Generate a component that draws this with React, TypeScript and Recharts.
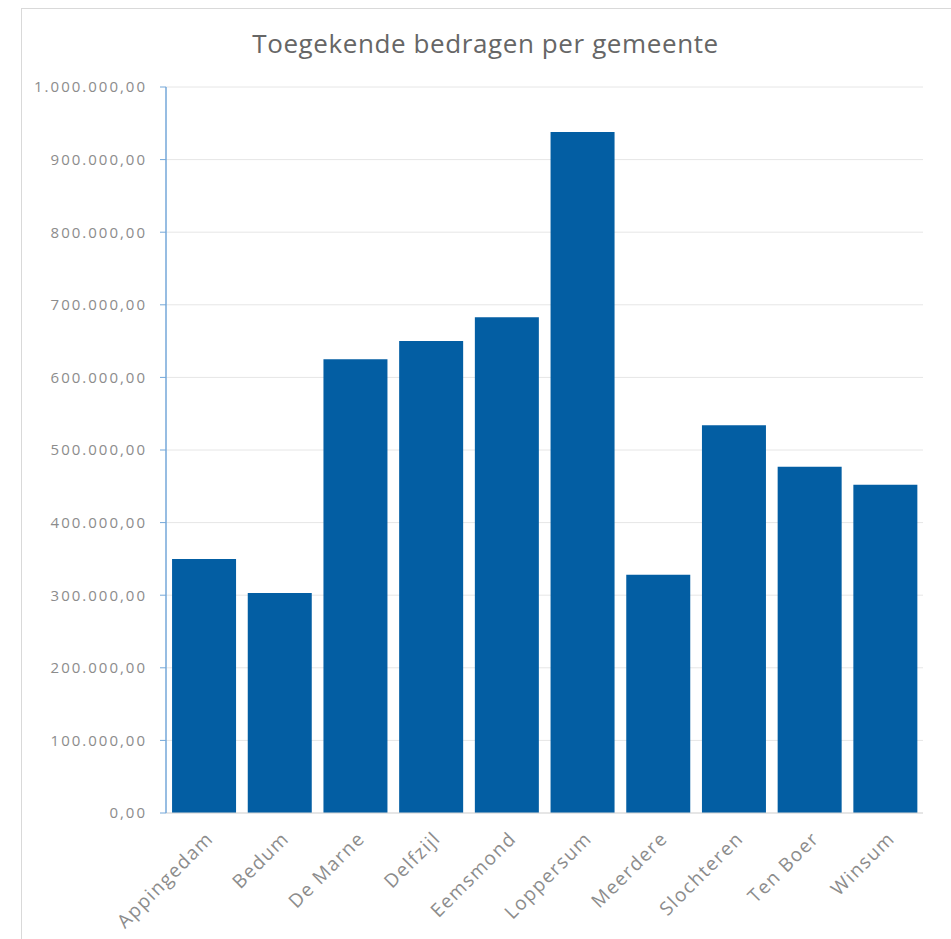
import { BarChart, Bar, XAxis, YAxis, CartesianGrid } from "recharts";

const gemeenten = [
  "Appingedam",
  "Bedum",
  "De Marne",
  "Delfzijl",
  "Eemsmond",
  "Loppersum",
  "Meerdere",
  "Slochteren",
  "Ten Boer",
  "Winsum",
];
const bedragen = [350000, 303000, 625000, 650000, 683000, 938000, 328000, 534000, 477000, 452000];
const yTicks = [0, 100000, 200000, 300000, 400000, 500000, 600000, 700000, 800000, 900000, 1000000];

const data = gemeenten.map((naam, i) => ({ naam, bedrag: bedragen[i] }));

const formatEuro = (v: number) => {
  const int = Math.round(v)
    .toString()
    .replace(/\B(?=(\d{3})+(?!\d))/g, ".");
  return `${int},00`;
};

const FONT = "'Open Sans', sans-serif";

function XTick({ x, y, payload }: any) {
  return (
    <g transform={`translate(${x + 6},${y + 22})`}>
      <text
        textAnchor="end"
        transform="rotate(-45)"
        fill="#8c8c8c"
        fontSize={19}
        fontFamily={FONT}
        letterSpacing={1.4}
        dy="0.35em"
      >
        {payload.value}
      </text>
    </g>
  );
}

export default function App() {
  return (
    <div
      style={{
        position: "absolute",
        left: 0,
        top: 0,
        width: 951,
        height: 939,
        background: "#fff",
        overflow: "hidden",
      }}
    >
      <div
        style={{
          position: "absolute",
          left: 21,
          top: 8,
          width: 960,
          height: 960,
          border: "1px solid #d9d9d9",
        }}
      />
      <div
        style={{
          position: "absolute",
          left: 10,
          top: 25,
          width: 951,
          textAlign: "center",
          fontFamily: FONT,
          fontSize: 26,
          letterSpacing: 0.6,
          color: "#666666",
        }}
      >
        Toegekende bedragen per gemeente
      </div>
      <div style={{ position: "absolute", left: 0, top: 0 }}>
        <BarChart
          width={951}
          height={939}
          data={data}
          margin={{ top: 87, right: 28, bottom: 0, left: 0 }}
          barCategoryGap="8%"
        >
          <CartesianGrid vertical={false} stroke="#e6e6e6" />
          <XAxis
            dataKey="naam"
            height={126}
            interval={0}
            tickLine={false}
            tickSize={0}
            tickMargin={0}
            axisLine={{ stroke: "#d9d9d9" }}
            tick={<XTick />}
          />
          <YAxis
            width={166}
            domain={[0, 1000000]}
            ticks={yTicks}
            tickFormatter={formatEuro}
            axisLine={{ stroke: "#74a7d8", strokeWidth: 1.5 }}
            tickLine={{ stroke: "#74a7d8" }}
            tickSize={6}
            tickMargin={13}
            tick={{ fill: "#8c8c8c", fontSize: 15, fontFamily: FONT, letterSpacing: 2 }}
          />
          <Bar dataKey="bedrag" fill="#035ea3" isAnimationActive={false} />
        </BarChart>
      </div>
    </div>
  );
}
